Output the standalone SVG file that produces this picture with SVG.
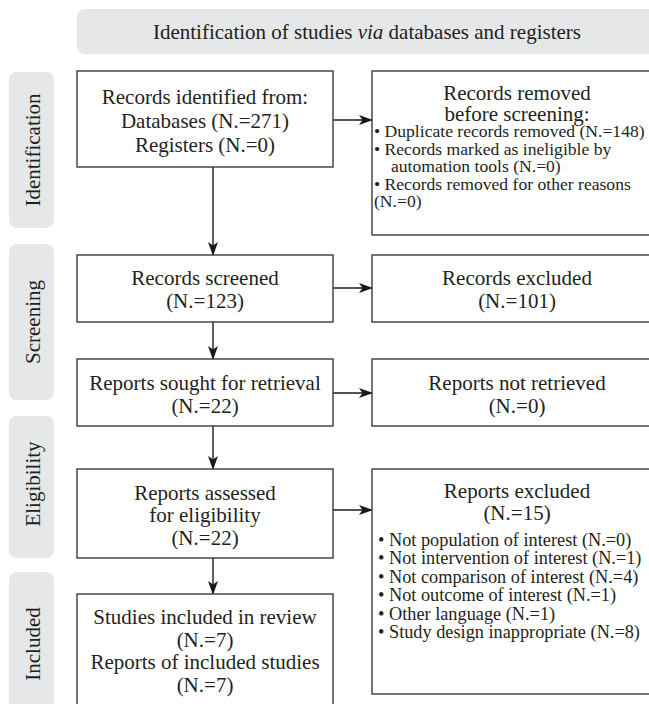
<svg xmlns="http://www.w3.org/2000/svg" width="649" height="704" viewBox="0 0 649 704">
<style>
  text { font-family: "Liberation Serif", "Times New Roman", serif; fill: #231f20; }
  .t { font-size: 21px; text-anchor: middle; }
  .b { font-size: 17.6px; }
  .b2 { font-size: 18.3px; }
  .band { fill: #e6e7e8; }
  .box { fill: #ffffff; stroke: #3a3a3a; stroke-width: 1.4; }
  .arr { stroke: #1a1a1a; stroke-width: 1.4; fill: none; marker-end: url(#ah); }
</style>
<defs>
  <marker id="ah" viewBox="0 0 14 10" refX="13" refY="5" markerWidth="14" markerHeight="10" markerUnits="userSpaceOnUse" orient="auto">
    <path d="M0,0 L14,5 L0,10 L3.5,5 z" fill="#1a1a1a"/>
  </marker>
</defs>

<g id="header">
  <rect class="band" x="77" y="9" width="600" height="45" rx="8"/>
  <text class="t" x="367" y="39">Identification of studies <tspan font-style="italic">via</tspan> databases and registers</text>
</g>

<g id="phase-identification">
  <rect class="band" x="9" y="72" width="45" height="156" rx="8"/>
  <text class="t" transform="translate(39.5,150) rotate(-90)">Identification</text>
</g>
<g id="phase-screening">
  <rect class="band" x="9" y="244" width="45" height="156" rx="8"/>
  <text class="t" transform="translate(39.5,322) rotate(-90)">Screening</text>
</g>
<g id="phase-eligibility">
  <rect class="band" x="9" y="416" width="45" height="142" rx="8"/>
  <text class="t" transform="translate(39.5,484) rotate(-90)">Eligibility</text>
</g>
<g id="phase-included">
  <rect class="band" x="9" y="572" width="45" height="156" rx="8"/>
  <text class="t" transform="translate(39.5,644) rotate(-90)">Included</text>
</g>

<g id="connectors">
  <line class="arr" x1="213" y1="167" x2="213" y2="255"/>
  <line class="arr" x1="213" y1="322" x2="213" y2="359"/>
  <line class="arr" x1="213" y1="426" x2="213" y2="469"/>
  <line class="arr" x1="213" y1="558" x2="213" y2="594"/>
  <line class="arr" x1="333" y1="120" x2="372" y2="120"/>
  <line class="arr" x1="333" y1="288" x2="372" y2="288"/>
  <line class="arr" x1="333" y1="393" x2="372" y2="393"/>
  <line class="arr" x1="333" y1="510" x2="372" y2="510"/>
</g>

<g id="records-identified">
  <rect class="box" x="77" y="71" width="256" height="96"/>
  <text class="t" x="205" y="104">Records identified from:</text>
  <text class="t" x="205" y="128">Databases (N.=271)</text>
  <text class="t" x="205" y="152">Registers (N.=0)</text>
</g>

<g id="records-removed">
  <rect class="box" x="372" y="71" width="300" height="164"/>
  <text class="t" x="517" y="99.5">Records removed</text>
  <text class="t" x="517" y="120.5">before screening:</text>
  <text class="b" x="374" y="137">• Duplicate records removed (N.=148)</text>
  <text class="b" x="374" y="154.5">• Records marked as ineligible by</text>
  <text class="b" x="391" y="172">automation tools (N.=0)</text>
  <text class="b" x="374" y="189.5">• Records removed for other reasons</text>
  <text class="b" x="374" y="207">(N.=0)</text>
</g>

<g id="records-screened">
  <rect class="box" x="77" y="255" width="256" height="67"/>
  <text class="t" x="205" y="285">Records screened</text>
  <text class="t" x="205" y="308">(N.=123)</text>
</g>

<g id="records-excluded">
  <rect class="box" x="372" y="255" width="300" height="67"/>
  <text class="t" x="517" y="285">Records excluded</text>
  <text class="t" x="517" y="308">(N.=101)</text>
</g>

<g id="reports-sought">
  <rect class="box" x="77" y="359" width="256" height="67"/>
  <text class="t" x="205" y="390">Reports sought for retrieval</text>
  <text class="t" x="205" y="413">(N.=22)</text>
</g>

<g id="reports-not-retrieved">
  <rect class="box" x="372" y="359" width="300" height="67"/>
  <text class="t" x="517" y="390">Reports not retrieved</text>
  <text class="t" x="517" y="413">(N.=0)</text>
</g>

<g id="reports-assessed">
  <rect class="box" x="77" y="469" width="256" height="89"/>
  <text class="t" x="205" y="499.5">Reports assessed</text>
  <text class="t" x="205" y="522">for eligibility</text>
  <text class="t" x="205" y="545">(N.=22)</text>
</g>

<g id="reports-excluded">
  <rect class="box" x="372" y="469" width="300" height="225"/>
  <text class="t" x="517" y="497.5">Reports excluded</text>
  <text class="t" x="517" y="520">(N.=15)</text>
  <text class="b2" x="378" y="545.5">• Not population of interest (N.=0)</text>
  <text class="b2" x="378" y="564">• Not intervention of interest (N.=1)</text>
  <text class="b2" x="378" y="582.5">• Not comparison of interest (N.=4)</text>
  <text class="b2" x="378" y="601">• Not outcome of interest (N.=1)</text>
  <text class="b2" x="378" y="619.5">• Other language (N.=1)</text>
  <text class="b2" x="378" y="638">• Study design inappropriate (N.=8)</text>
</g>

<g id="studies-included">
  <rect class="box" x="77" y="594" width="256" height="130"/>
  <text class="t" x="205" y="624">Studies included in review</text>
  <text class="t" x="205" y="646.5">(N.=7)</text>
  <text class="t" x="205" y="669">Reports of included studies</text>
  <text class="t" x="205" y="691.5">(N.=7)</text>
</g>
</svg>
